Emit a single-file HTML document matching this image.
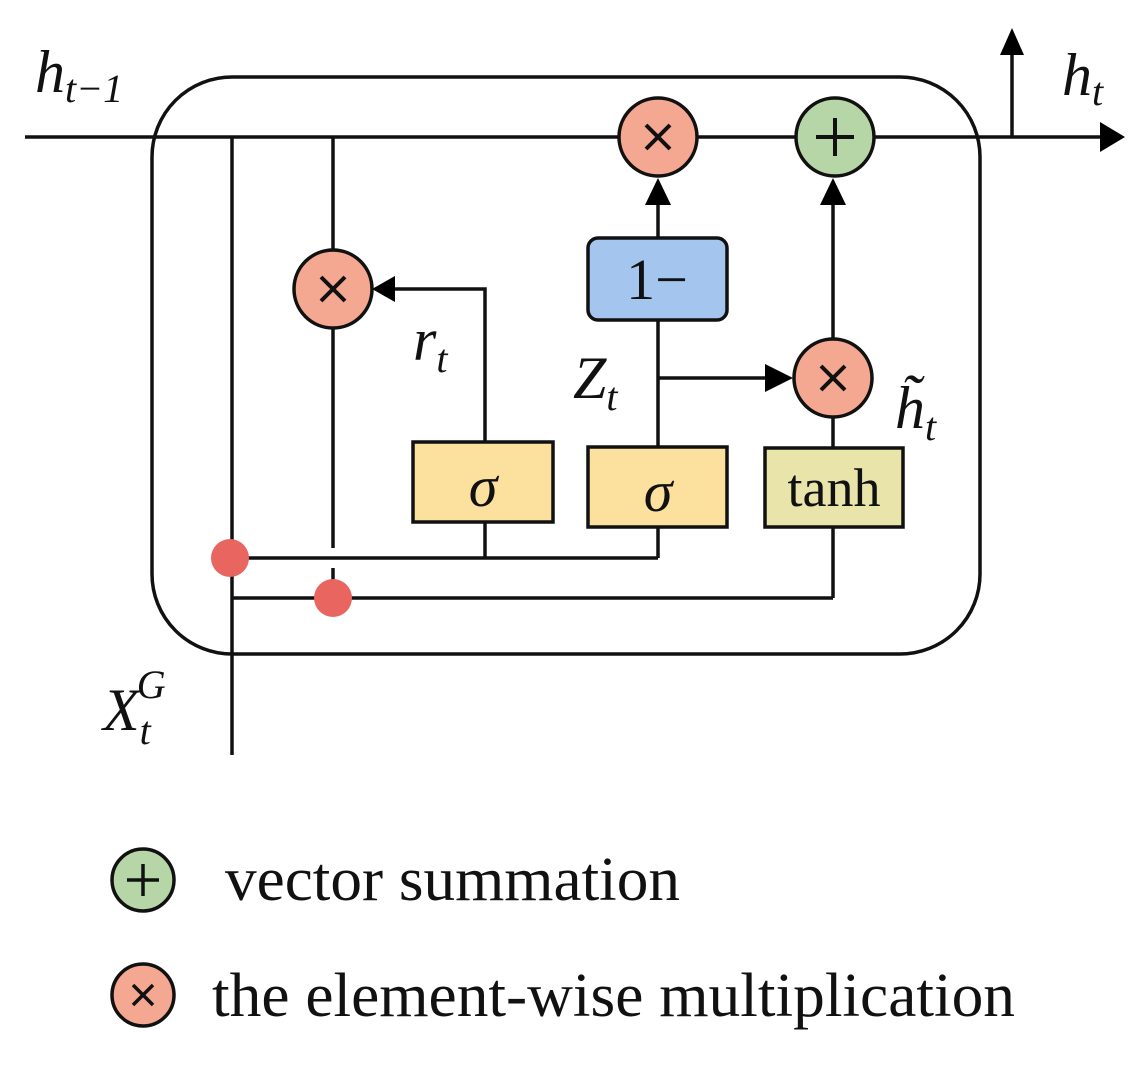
<!DOCTYPE html>
<html><head><style>body{margin:0;background:#fff}svg{display:block}</style></head><body>
<svg width="1146" height="1066" viewBox="0 0 1146 1066" xmlns="http://www.w3.org/2000/svg" font-family="Liberation Serif, serif">
<g stroke="#111" stroke-width="3.5" fill="none">
<rect x="152" y="77" width="828" height="577" rx="80" ry="80"/>
<line x1="25" y1="137" x2="1100" y2="137"/>
<path d="M1100,122L1125,137L1100,152z" fill="#000" stroke="none"/>
<line x1="1012" y1="137" x2="1012" y2="50"/>
<path d="M1000,55L1012,28L1024,55z" fill="#000" stroke="none"/>
<line x1="232" y1="137" x2="232" y2="755"/>
<line x1="333" y1="137" x2="333" y2="548"/>
<line x1="333" y1="568" x2="333" y2="598"/>
<line x1="232" y1="558" x2="658" y2="558"/>
<line x1="232" y1="598" x2="833" y2="598"/>
<line x1="485" y1="558" x2="485" y2="522"/>
<line x1="658" y1="558" x2="658" y2="527"/>
<line x1="833" y1="598" x2="833" y2="527"/>
<polyline points="485,442 485,289 395,289"/>
<path d="M395,276L372,289L395,302z" fill="#000" stroke="none"/>
<line x1="658" y1="447" x2="658" y2="320"/>
<line x1="658" y1="238" x2="658" y2="200"/>
<path d="M645,205L658,178L671,205z" fill="#000" stroke="none"/>
<line x1="658" y1="378" x2="770" y2="378"/>
<path d="M765,364L793,378L765,392z" fill="#000" stroke="none"/>
<line x1="833" y1="448" x2="833" y2="418"/>
<line x1="833" y1="338" x2="833" y2="200"/>
<path d="M820,205L833,178L846,205z" fill="#000" stroke="none"/>
</g>
<circle cx="230" cy="558" r="19" fill="#e8665f"/>
<circle cx="333" cy="598" r="19" fill="#e8665f"/>
<g stroke="#111" stroke-width="3.5">
<circle cx="658" cy="137" r="39" fill="#f4a891"/>
<circle cx="835" cy="137" r="39" fill="#b7d6a8"/>
<circle cx="333" cy="289" r="39" fill="#f4a891"/>
<circle cx="833" cy="378" r="39" fill="#f4a891"/>
<rect x="588" y="238" width="139" height="82" rx="10" fill="#a3c5ee"/>
<rect x="413" y="442" width="140" height="80" fill="#fbe09e"/>
<rect x="588" y="447" width="139" height="80" fill="#fbe09e"/>
<rect x="765" y="448" width="138" height="79" fill="#e8e4aa"/>
</g>
<g stroke="#111" stroke-width="4" fill="none">
<path d="M646,125L670,149M670,125L646,149"/>
<path d="M321,277L345,301M345,277L321,301"/>
<path d="M821,366L845,390M845,366L821,390"/>
<path d="M835,118V156M816,137H854"/>
</g>
<g font-size="58" text-anchor="middle" fill="#111">
<text x="657" y="299">1−</text>
<text x="483" y="506" font-style="italic">σ</text>
<text x="658" y="511" font-style="italic">σ</text>
<text x="834" y="506" font-size="54">tanh</text>
</g>
<g fill="#111" font-style="italic" font-size="60">
<text x="35" y="92">h<tspan font-size="40" dy="10">t−1</tspan></text>
<text x="1062" y="95">h<tspan font-size="40" dy="10">t</tspan></text>
<text x="413" y="360">r<tspan font-size="40" dy="12">t</tspan></text>
<text x="573" y="398">Z<tspan font-size="40" dy="12">t</tspan></text>
<text x="895" y="428">h̃<tspan font-size="40" dy="12">t</tspan></text>
<text x="103" y="730">X<tspan font-size="40" dy="14">t</tspan><tspan font-size="40" dx="-14" dy="-46">G</tspan></text>
</g>
<g stroke="#111" stroke-width="3.5">
<circle cx="143" cy="880" r="31" fill="#b7d6a8"/>
<circle cx="143" cy="995" r="31" fill="#f4a891"/>
</g>
<g stroke="#111" stroke-width="3.5" fill="none">
<path d="M143,864V896M127,880H159"/>
<path d="M133,985L153,1005M153,985L133,1005"/>
</g>
<g fill="#111" font-size="62">
<text x="225" y="900" textLength="455" lengthAdjust="spacingAndGlyphs">vector summation</text>
<text x="212" y="1016" textLength="803" lengthAdjust="spacingAndGlyphs">the element-wise multiplication</text>
</g>
</svg>
</body></html>
